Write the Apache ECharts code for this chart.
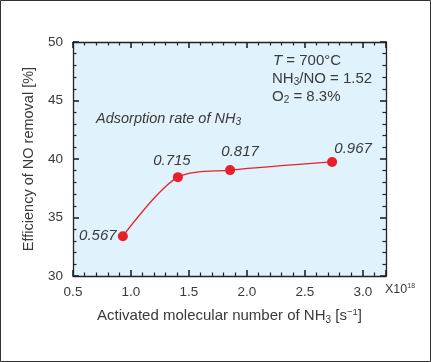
<!DOCTYPE html>
<html><head><meta charset="utf-8">
<script src="https://cdn.jsdelivr.net/npm/echarts@6/dist/echarts.min.js"></script>
<style>html,body{margin:0;padding:0;background:#fff}#c{width:431px;height:362px}</style>
</head><body><div id="c"></div>
<script>
const xValues = [0.93, 1.405, 1.855, 2.735];
const yValues = [33.4, 38.45, 39.05, 39.75];
const pointLabels = ['0.567', '0.715', '0.817', '0.967'];
const xTicks = [0.5, 1.0, 1.5, 2.0, 2.5, 3.0];
const yTicks = [30, 35, 40, 45, 50];
const labelOffsets = [[-25, 0], [-6, -16], [10, -18], [21, -13]];
const FONT = 'Liberation Sans, Arial, sans-serif';
const TXT = '#3a3a3a';
const RED = '#e8202a';

const chart = echarts.init(document.getElementById('c'), null, {renderer: 'canvas'});
function xAx(pos, show) {
  return {
    type: 'value', position: pos, min: 0.5, max: 3.2, interval: 0.5,
    axisLine: {show: true, onZero: false, lineStyle: {color: '#222', width: 1.3}},
    axisTick: {show: true, inside: true, length: 6, lineStyle: {color: '#222', width: 1.6}},
    minorTick: {show: true, splitNumber: 5, length: 3.5, lineStyle: {color: '#222', width: 1.2}},
    splitLine: {show: false},
    axisLabel: {show: show, color: TXT, fontSize: 13.5, fontFamily: FONT, margin: 9,
      showMinLabel: true, showMaxLabel: false,
      formatter: v => xTicks.some(t => Math.abs(t - v) < 1e-6) ? v.toFixed(1) : ''},
    name: show ? '{n|Activated molecular number of NH}{s|3}{n| [s}{p|−1}{n|]}' : '',
    nameLocation: 'middle', nameGap: 31,
    nameTextStyle: {rich: {
      n: {fontSize: 15, color: TXT, fontFamily: FONT},
      s: {fontSize: 10, color: TXT, fontFamily: FONT, verticalAlign: 'bottom', padding: [8, 0, 0, 0]},
      p: {fontSize: 9.5, color: TXT, fontFamily: FONT, verticalAlign: 'top', padding: [0, 0, 6, 0]}
    }}
  };
}
function yAx(pos, show) {
  return {
    type: 'value', position: pos, min: 30, max: 50, interval: 5,
    axisLine: {show: true, onZero: false, lineStyle: {color: '#222', width: 1.3}},
    axisTick: {show: true, inside: true, length: 6, lineStyle: {color: '#222', width: 1.6}},
    minorTick: {show: true, splitNumber: 5, length: 3.5, lineStyle: {color: '#222', width: 1.2}},
    splitLine: {show: false},
    axisLabel: {show: show, color: TXT, fontSize: 13.5, fontFamily: FONT, margin: 10,
      formatter: v => yTicks.includes(v) ? String(v) : ''},
    name: show ? 'Efficiency of NO removal [%]' : '',
    nameLocation: 'middle', nameGap: 37,
    nameTextStyle: {fontSize: 14.5, color: TXT, fontFamily: FONT}
  };
}
chart.setOption({
  animation: false,
  backgroundColor: '#fff',
  grid: {left: 73, right: 45, top: 42, bottom: 86, show: true, backgroundColor: '#e0f2fc', borderWidth: 0},
  xAxis: [xAx('bottom', true), xAx('top', false)],
  yAxis: [yAx('left', true), yAx('right', false)],
  series: [{
    type: 'line', xAxisIndex: 0, yAxisIndex: 0, smooth: 0.3,
    data: xValues.map((x, i) => ({
      value: [x, yValues[i]],
      label: {show: true, formatter: pointLabels[i], position: 'inside', offset: labelOffsets[i]}
    })),
    symbol: 'circle', symbolSize: 10,
    itemStyle: {color: RED},
    lineStyle: {color: RED, width: 1.3},
    label: {fontStyle: 'italic', fontSize: 15, color: TXT, fontFamily: FONT},
    z: 5
  }],
  graphic: [
    {type: 'rect', shape: {x: 0.5, y: 0.5, width: 430, height: 361},
     style: {fill: 'none', stroke: '#333', lineWidth: 1}, z: 100},
    {type: 'text', left: 385, top: 283, style: {
      text: 'X10{p|18}', fill: TXT, font: '12.5px ' + FONT,
      rich: {p: {fontSize: 7, fill: TXT, fontFamily: FONT, verticalAlign: 'top', padding: [0, 0, 6, 0]}}}},
    {type: 'text', left: 273, top: 53, style: {
      text: '{i|T} = 700°C', fill: TXT, font: '15px ' + FONT,
      rich: {i: {fontStyle: 'italic', fontSize: 15, fill: TXT, fontFamily: FONT}}}},
    {type: 'text', left: 272, top: 71, style: {
      text: 'NH{s|3}/NO = 1.52', fill: TXT, font: '15px ' + FONT,
      rich: {s: {fontSize: 10, fill: TXT, fontFamily: FONT, verticalAlign: 'bottom', padding: [8, 0, 0, 0]}}}},
    {type: 'text', left: 272, top: 89, style: {
      text: 'O{s|2} = 8.3%', fill: TXT, font: '15px ' + FONT,
      rich: {s: {fontSize: 10, fill: TXT, fontFamily: FONT, verticalAlign: 'bottom', padding: [8, 0, 0, 0]}}}},
    {type: 'text', left: 96, top: 111, style: {
      text: 'Adsorption rate of NH{s|3}', fill: TXT, font: 'italic 14.5px ' + FONT,
      rich: {s: {fontSize: 10, fontStyle: 'italic', fill: TXT, fontFamily: FONT, verticalAlign: 'bottom', padding: [8, 0, 0, 0]}}}}
  ]
});
</script></body></html>
